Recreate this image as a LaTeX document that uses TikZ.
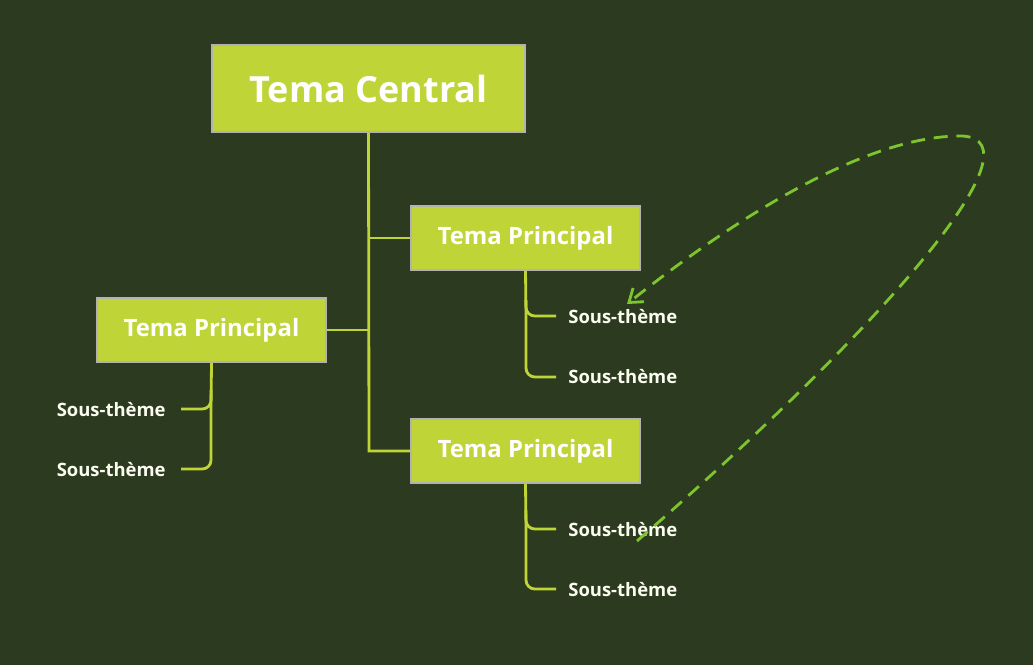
\documentclass[tikz,border=0pt]{standalone}
\usepackage{fontspec}
\setmainfont{Open Sans}
\usetikzlibrary{arrows.meta}
\definecolor{bg}{HTML}{2C3A1F}
\definecolor{lime}{HTML}{BED437}
\definecolor{dashgreen}{HTML}{7DC52E}
\begin{document}
\begin{tikzpicture}[x=0.02cm,y=-0.02cm,
  box/.style={fill=lime,draw=gray!60,line width=0.6pt,inner sep=0pt,text=white,font=\bfseries},
  sub/.style={text=white!92!lime,font=\bfseries\fontsize{10.5}{12}\selectfont,inner sep=0pt},
  ln/.style={draw=lime,line width=1.6pt,rounded corners=5pt}]
\fill[bg] (0,0) rectangle (1033,665);
\useasboundingbox (0,0) rectangle (1033,665);
\node[box,minimum width=313*0.02cm,minimum height=87*0.02cm,font=\bfseries\fontsize{20.5}{24}\selectfont] (c) at (368.5,88.5) {Tema Central};
\node[box,minimum width=229*0.02cm,minimum height=64*0.02cm,font=\bfseries\fontsize{13.6}{16}\selectfont] (p1) at (525.5,238) {Tema Principal};
\node[box,minimum width=229*0.02cm,minimum height=64*0.02cm,font=\bfseries\fontsize{13.6}{16}\selectfont] (p2) at (211.5,330) {Tema Principal};
\node[box,minimum width=229*0.02cm,minimum height=64*0.02cm,font=\bfseries\fontsize{13.6}{16}\selectfont] (p3) at (525.5,451) {Tema Principal};
\coordinate (j) at (369,451);
\draw[ln,rounded corners=0pt] (c.south) -- (j) -- (p3.west);
\draw[ln,rounded corners=0pt] (369,238) -- (p1.west);
\draw[ln,rounded corners=0pt] (p2.east) -- (369,330);
\node[sub,anchor=west] (s1) at (568,317) {Sous-thème};
\node[sub,anchor=west] (s2) at (568,377) {Sous-thème};
\node[sub,anchor=west] (s5) at (568,530) {Sous-thème};
\node[sub,anchor=west] (s6) at (568,590) {Sous-thème};
\node[sub,anchor=east] (s3) at (166,410) {Sous-thème};
\node[sub,anchor=east] (s4) at (166,470) {Sous-thème};
\draw[ln] (p1.south) -- (526,316) -- (556,316);
\draw[ln] (526,300) -- (526,377) -- (556,377);
\draw[ln] (p3.south) -- (526,529) -- (556,529);
\draw[ln] (526,510) -- (526,589) -- (556,589);
\draw[ln] (p2.south) -- (211,409) -- (181,409);
\draw[ln] (211,390) -- (211,469) -- (181,469);
\coordinate (d0) at (637,541);
\coordinate (d1) at (627,304);
\draw[draw=dashgreen,line width=1.6pt,dash pattern=on 8pt off 5pt,-{Straight Barb[length=7pt,width=10pt]}]
 (d0) .. controls (880,330) and (1045,140) .. (962,136)
      .. controls (860,135) and (720,230) .. (d1);
\end{tikzpicture}
\end{document}
